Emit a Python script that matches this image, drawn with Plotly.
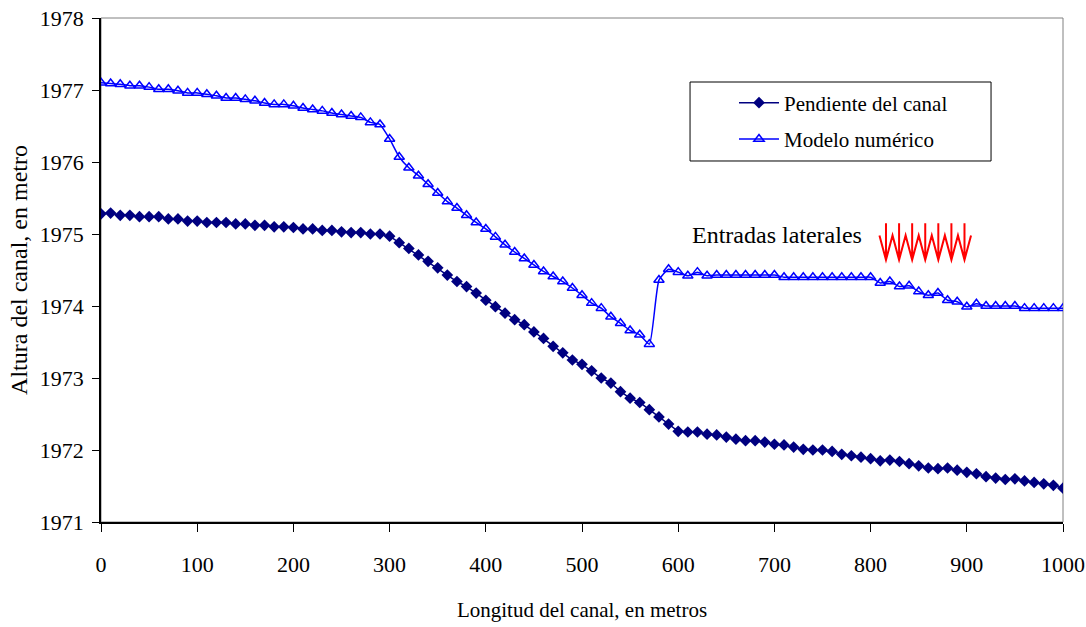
import plotly.graph_objects as go

# ---------------- data ----------------
distancia = list(range(0, 1001, 10))

pendiente_canal = [
    1975.28, 1975.29, 1975.26, 1975.26, 1975.24, 1975.24, 1975.24, 1975.21, 1975.21, 1975.18,
    1975.18, 1975.16, 1975.16, 1975.16, 1975.14, 1975.14, 1975.12, 1975.12, 1975.10, 1975.10,
    1975.09, 1975.07, 1975.07, 1975.05, 1975.05, 1975.03, 1975.02, 1975.02, 1975.00, 1975.00,
    1974.97, 1974.88, 1974.80, 1974.71, 1974.62, 1974.53, 1974.43, 1974.34, 1974.27, 1974.18,
    1974.08, 1973.99, 1973.90, 1973.81, 1973.74, 1973.64, 1973.55, 1973.44, 1973.35, 1973.25,
    1973.19, 1973.10, 1973.00, 1972.93, 1972.81, 1972.72, 1972.66, 1972.56, 1972.46, 1972.36,
    1972.26, 1972.25, 1972.25, 1972.22, 1972.21, 1972.18, 1972.15, 1972.13, 1972.13, 1972.11,
    1972.08, 1972.07, 1972.04, 1972.01, 1972.00, 1972.00, 1971.98, 1971.94, 1971.92, 1971.90,
    1971.88, 1971.85, 1971.86, 1971.84, 1971.81, 1971.78, 1971.75, 1971.74, 1971.75, 1971.72,
    1971.69, 1971.67, 1971.63, 1971.61, 1971.59, 1971.60, 1971.57, 1971.55, 1971.53, 1971.51,
    1971.47,
]

modelo_numerico = [
    1977.10, 1977.09, 1977.08, 1977.06, 1977.06, 1977.04, 1977.01, 1977.01, 1976.99, 1976.96,
    1976.96, 1976.94, 1976.92, 1976.89, 1976.89, 1976.87, 1976.85, 1976.82, 1976.80, 1976.80,
    1976.78, 1976.75, 1976.73, 1976.71, 1976.68, 1976.66, 1976.64, 1976.62, 1976.55, 1976.52,
    1976.32, 1976.07, 1975.92, 1975.81, 1975.69, 1975.57, 1975.45, 1975.36, 1975.26, 1975.16,
    1975.07, 1974.96, 1974.85, 1974.75, 1974.66, 1974.57, 1974.48, 1974.41, 1974.34, 1974.25,
    1974.15, 1974.04, 1973.97, 1973.85, 1973.76, 1973.66, 1973.60, 1973.47, 1974.36, 1974.51,
    1974.47, 1974.42, 1974.47, 1974.42, 1974.43, 1974.43, 1974.43, 1974.43, 1974.43, 1974.43,
    1974.43, 1974.40, 1974.40, 1974.40, 1974.40, 1974.40, 1974.40, 1974.40, 1974.40, 1974.40,
    1974.40, 1974.32, 1974.34, 1974.27, 1974.28, 1974.20, 1974.15, 1974.18, 1974.08, 1974.06,
    1973.99, 1974.03, 1974.00, 1974.00, 1974.00, 1974.00, 1973.97, 1973.97, 1973.97, 1973.97,
    1973.97,
]

x_ticks = [0, 100, 200, 300, 400, 500, 600, 700, 800, 900, 1000]
y_ticks = [1971, 1972, 1973, 1974, 1975, 1976, 1977, 1978]

FONT = "Liberation Serif"

fig = go.Figure()

fig.add_trace(go.Scatter(
    x=distancia, y=pendiente_canal, mode="lines+markers",
    name="Pendiente del canal", legendgroup="a",
    line=dict(color="#000080", width=1.5),
    marker=dict(symbol="diamond", size=9, color="#000080"),
))
fig.add_trace(go.Scatter(
    x=distancia, y=modelo_numerico, mode="lines+markers",
    name="Modelo numérico", legendgroup="b",
    line=dict(color="#0000FF", width=1.5, shape="spline", smoothing=0.5),
    marker=dict(symbol="triangle-up-open", size=9, color="#0000FF",
                line=dict(width=1.5, color="#0000FF")),
))

# red zigzag "entradas laterales" symbol (decoration)
zz_left, zz_half = 809.2, 6.8
zz_top, zz_bot, arr_top = 1974.98, 1974.64, 1975.15
path = "M %.2f,%.3f" % (zz_left, zz_top)
for k in range(7):
    path += " L %.2f,%.3f L %.2f,%.3f" % (zz_left + zz_half * (2 * k + 1), zz_bot,
                                           zz_left + zz_half * (2 * k + 2), zz_top)
for k in range(7):
    xa = zz_left + zz_half * (2 * k + 1)
    path += " M %.2f,%.3f L %.2f,%.3f" % (xa, arr_top, xa, zz_bot)

shapes = [
    dict(type="rect", xref="paper", yref="paper", x0=0, x1=1, y0=0, y1=1,
         line=dict(color="#808080", width=1), layer="below"),
    dict(type="path", xref="x", yref="y", path=path,
         line=dict(color="#FF0000", width=2)),
    dict(type="rect", xref="paper", yref="paper", x0=0.6123, x1=0.9252, y0=0.7163, y1=0.873,
         line=dict(color="#000000", width=1)),
]

fig.update_layout(
    width=1086, height=627,
    margin=dict(l=101, r=23, t=18, b=105, autoexpand=False),
    paper_bgcolor="white", plot_bgcolor="white",
    font=dict(family=FONT, size=20, color="black"),
    showlegend=True,
    legend=dict(x=0.658, y=0.872, xanchor="left", yanchor="top",
                bgcolor="rgba(0,0,0,0)", borderwidth=0,
                font=dict(family=FONT, size=21, color="black"),
                tracegroupgap=6, itemwidth=40),
    shapes=shapes,
    annotations=[dict(x=612, y=1974.98, xref="x", yref="y", text="Entradas laterales",
                      showarrow=False, xanchor="left", yanchor="middle",
                      font=dict(family=FONT, size=24, color="black"))],
)

fig.update_xaxes(
    range=[0, 1000], tickvals=x_ticks, ticktext=[str(v) for v in x_ticks],
    showline=True, linecolor="black", linewidth=1.5, mirror=False,
    ticks="outside", ticklen=8, tickcolor="black", tickwidth=1,
    showgrid=False, zeroline=False, ticklabelstandoff=14, automargin=False,
    tickfont=dict(family=FONT, size=22),
    title=dict(text="Longitud del canal, en metros", font=dict(family=FONT, size=21), standoff=26),
)
fig.update_yaxes(
    range=[1971, 1978], tickvals=y_ticks, ticktext=[str(v) for v in y_ticks],
    showline=True, linecolor="black", linewidth=1.5, mirror=False,
    ticks="outside", ticklen=7, tickcolor="black", tickwidth=1,
    showgrid=False, zeroline=False, ticklabelstandoff=4, automargin=False,
    tickfont=dict(family=FONT, size=22),
    title=dict(text="Altura del canal, en metro", font=dict(family=FONT, size=24), standoff=5),
)

fig.write_html(
    "out.html",
    config={"displayModeBar": False},
    post_script="document.body.style.margin='0';document.body.style.overflow='hidden';",
)
